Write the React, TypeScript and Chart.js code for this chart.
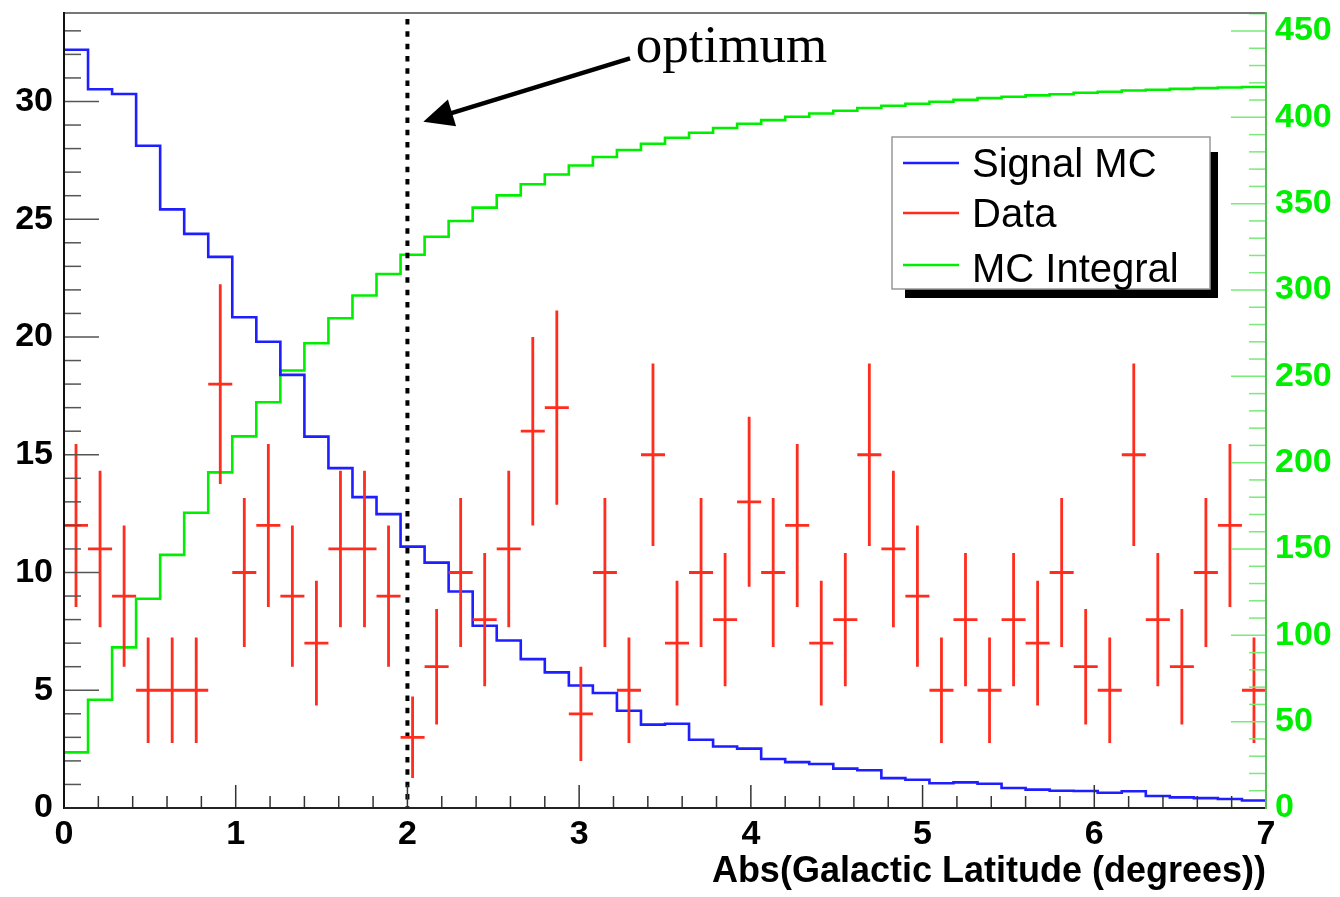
import React, { useEffect, useRef } from 'react';
import { Chart, registerables } from 'chart.js';

Chart.register(...registerables);

const W = 1340;
const H = 897;

// ---- data ----
const BIN_WIDTH = 0.14;
const binLowEdges = [
  0.0, 0.14, 0.28, 0.42, 0.56, 0.7, 0.84, 0.98, 1.12, 1.26,
  1.4, 1.54, 1.68, 1.82, 1.96, 2.1, 2.24, 2.38, 2.52, 2.66,
  2.8, 2.94, 3.08, 3.22, 3.36, 3.5, 3.64, 3.78, 3.92, 4.06,
  4.2, 4.34, 4.48, 4.62, 4.76, 4.9, 5.04, 5.18, 5.32, 5.46,
  5.6, 5.74, 5.88, 6.02, 6.16, 6.3, 6.44, 6.58, 6.72, 6.86,
];

const signalMC = [
  32.2, 30.52, 30.32, 28.12, 25.42, 24.38, 23.4, 20.84, 19.8, 18.39,
  15.77, 14.43, 13.2, 12.48, 11.1, 10.42, 9.19, 7.74, 7.11, 6.32,
  5.76, 5.2, 4.88, 4.13, 3.54, 3.58, 2.9, 2.61, 2.52, 2.08,
  1.95, 1.87, 1.67, 1.6, 1.27, 1.2, 1.05, 1.09, 1.03, 0.85,
  0.78, 0.73, 0.72, 0.65, 0.71, 0.51, 0.45, 0.42, 0.38, 0.32,
];

const mcIntegral = [
  32.2, 62.7, 93.0, 121.2, 146.6, 171.0, 194.4, 215.2, 235.0, 253.4,
  269.2, 283.6, 296.8, 309.3, 320.4, 330.8, 340.0, 347.7, 354.8, 361.2,
  366.9, 372.1, 377.0, 381.1, 384.7, 388.2, 391.1, 393.8, 396.3, 398.4,
  400.3, 402.2, 403.8, 405.4, 406.7, 407.9, 409.0, 410.1, 411.1, 411.9,
  412.7, 413.4, 414.2, 414.8, 415.5, 416.0, 416.5, 416.9, 417.3, 417.6,
];

const dataCounts = [
  12, 11, 9, 5, 5, 5, 18, 10, 12, 9,
  7, 11, 11, 9, 3, 6, 10, 8, 11, 16,
  17, 4, 10, 5, 15, 7, 10, 8, 13, 10,
  12, 7, 8, 15, 11, 9, 5, 8, 5, 8,
  7, 10, 6, 5, 15, 8, 6, 10, 12, 5,
];

const dataErrors = [
  3.46, 3.32, 3.0, 2.24, 2.24, 2.24, 4.24, 3.16, 3.46, 3.0,
  2.65, 3.32, 3.32, 3.0, 1.73, 2.45, 3.16, 2.83, 3.32, 4.0,
  4.12, 2.0, 3.16, 2.24, 3.87, 2.65, 3.16, 2.83, 3.61, 3.16,
  3.46, 2.65, 2.83, 3.87, 3.32, 3.0, 2.24, 2.83, 2.24, 2.83,
  2.65, 3.16, 2.45, 2.24, 3.87, 2.83, 2.45, 3.16, 3.46, 2.24,
];

const xTickLabels = ['0', '1', '2', '3', '4', '5', '6', '7'];
const yLeftTickLabels = ['0', '5', '10', '15', '20', '25', '30'];
const yRightTickLabels = ['0', '50', '100', '150', '200', '250', '300', '350', '400', '450'];

const X_MIN = 0;
const X_MAX = 7;
const Y_LEFT_MAX = 33.8;
const Y_RIGHT_MAX = 461;
const OPTIMUM_X = 2;
const OPTIMUM_TOP = 33.5;
const ARROW_TAIL = { x: 3.296, y: 31.83 };
const ARROW_TIP = { x: 2.0925, y: 29.14 };
const LABEL_POS = { x: 3.33, y: 31.69 };
const LABEL_TEXT = 'optimum';
const X_TITLE = 'Abs(Galactic Latitude (degrees))';

// ---- styles ----
const SANS = '"Liberation Sans", Arial, Helvetica, sans-serif';
const SERIF = '"Liberation Serif", "Times New Roman", serif';
const BLUE = 'rgb(30,30,255)';
const RED = 'rgb(255,45,30)';
const GREEN = 'rgb(0,238,0)';

const xTicks: number[] = [];
for (let i = 0; i <= 35; i++) xTicks.push(Math.round(i * 20) / 100);
const yLeftTicks: number[] = [];
for (let i = 0; i <= 33; i++) yLeftTicks.push(i);
const yRightTicks: number[] = [];
for (let i = 0; i <= 46; i++) yRightTicks.push(i * 10);

const isMult = (v: number, m: number) => Math.abs(v / m - Math.round(v / m)) < 1e-6;

const stepData = (vals: number[]) => {
  const pts = binLowEdges.map((e, i) => ({ x: e, y: vals[i] }));
  pts.push({ x: X_MAX, y: vals[vals.length - 1] });
  return pts;
};

const errorSegments = () => {
  const pts: any[] = [];
  dataCounts.forEach((v, i) => {
    const lo = binLowEdges[i];
    const c = lo + BIN_WIDTH / 2;
    const e = dataErrors[i];
    pts.push({ x: c, y: v - e }, { x: c, y: v + e }, { x: c, y: null });
    pts.push({ x: lo, y: v }, { x: lo + BIN_WIDTH, y: v }, { x: c, y: null });
  });
  return pts;
};

const LEGEND_ITEMS = ['Signal MC', 'Data', 'MC Integral'];

const decorPlugin = {
  id: 'rootDecor',
  afterDatasetsDraw(chart: any) {
    const { ctx, chartArea: a, scales } = chart;
    const xs = scales.x;
    const yl = scales.y;
    const yr = scales.y1;
    ctx.save();
    ctx.lineCap = 'butt';
    const seg = (x1: number, y1: number, x2: number, y2: number) => {
      ctx.beginPath();
      ctx.moveTo(x1, y1);
      ctx.lineTo(x2, y2);
      ctx.stroke();
    };
    // left ticks
    ctx.strokeStyle = '#555';
    ctx.lineWidth = 1.5;
    for (const t of yl.ticks) {
      const py = yl.getPixelForValue(t.value);
      seg(a.left, py, a.left + (isMult(t.value, 5) ? 35 : 17), py);
    }
    // bottom ticks
    ctx.strokeStyle = '#333';
    for (const t of xs.ticks) {
      const px = xs.getPixelForValue(t.value);
      seg(px, a.bottom, px, a.bottom - (isMult(t.value, 1) ? 23 : 12));
    }
    // right ticks
    ctx.strokeStyle = 'rgb(120,235,120)';
    for (const t of yr.ticks) {
      const py = yr.getPixelForValue(t.value);
      seg(a.right, py, a.right - (isMult(t.value, 50) ? 35 : 17), py);
    }
    // frame
    ctx.lineWidth = 2;
    ctx.strokeStyle = '#777';
    seg(a.left, a.top + 1, a.right, a.top + 1);
    ctx.strokeStyle = '#111';
    seg(a.left, a.top, a.left, a.bottom + 1);
    ctx.strokeStyle = '#222';
    seg(a.left, a.bottom, a.right, a.bottom);
    ctx.strokeStyle = 'rgb(80,190,80)';
    seg(a.right, a.top, a.right, a.bottom + 1);
    ctx.restore();
  },
  afterDraw(chart: any) {
    const { ctx, scales } = chart;
    const xs = scales.x;
    const yl = scales.y;
    ctx.save();
    // annotation arrow
    const tx = xs.getPixelForValue(ARROW_TAIL.x);
    const ty = yl.getPixelForValue(ARROW_TAIL.y);
    const hx = xs.getPixelForValue(ARROW_TIP.x);
    const hy = yl.getPixelForValue(ARROW_TIP.y);
    const dx = hx - tx;
    const dy = hy - ty;
    const len = Math.hypot(dx, dy);
    const ux = dx / len;
    const uy = dy / len;
    const headLen = 30;
    const headHalf = 14;
    const bx = hx - ux * headLen;
    const by = hy - uy * headLen;
    ctx.strokeStyle = '#000';
    ctx.fillStyle = '#000';
    ctx.lineWidth = 4.5;
    ctx.beginPath();
    ctx.moveTo(tx, ty);
    ctx.lineTo(bx + ux * 4, by + uy * 4);
    ctx.stroke();
    ctx.beginPath();
    ctx.moveTo(hx, hy);
    ctx.lineTo(bx - uy * headHalf, by + ux * headHalf);
    ctx.lineTo(bx + uy * headHalf, by - ux * headHalf);
    ctx.closePath();
    ctx.fill();
    // label
    ctx.font = `53px ${SERIF}`;
    ctx.textAlign = 'left';
    ctx.textBaseline = 'alphabetic';
    ctx.fillText(LABEL_TEXT, xs.getPixelForValue(LABEL_POS.x), yl.getPixelForValue(LABEL_POS.y));

    // legend
    const L = { x1: 892, y1: 137, x2: 1210, y2: 289 };
    ctx.fillStyle = '#000';
    ctx.fillRect(L.x2, L.y1 + 15, 8, L.y2 - L.y1 - 6);
    ctx.fillRect(L.x1 + 13, L.y2, L.x2 - L.x1 - 5, 9);
    ctx.fillStyle = '#fff';
    ctx.fillRect(L.x1, L.y1, L.x2 - L.x1, L.y2 - L.y1);
    ctx.strokeStyle = '#999';
    ctx.lineWidth = 1.5;
    ctx.strokeRect(L.x1, L.y1, L.x2 - L.x1, L.y2 - L.y1);
    const rows = [163, 213, 265];
    const bases = [177, 227, 282];
    ctx.font = `40px ${SANS}`;
    ctx.textBaseline = 'alphabetic';
    LEGEND_ITEMS.forEach((name, i) => {
      const ds = chart.data.datasets.find((d: any) => d.label === name);
      ctx.strokeStyle = ds ? ds.borderColor : '#000';
      ctx.lineWidth = 2.5;
      ctx.beginPath();
      ctx.moveTo(903, rows[i]);
      ctx.lineTo(959, rows[i]);
      ctx.stroke();
      ctx.fillStyle = '#000';
      ctx.fillText(name, 972, bases[i]);
    });
    ctx.restore();
  },
};

export default function App() {
  const ref = useRef<HTMLCanvasElement | null>(null);
  useEffect(() => {
    const canvas = ref.current;
    if (!canvas) return;
    const chart = new Chart(canvas, {
      type: 'line',
      data: {
        datasets: [
          {
            label: 'Data',
            data: errorSegments(),
            borderColor: RED,
            borderWidth: 2.8,
            pointRadius: 0,
            spanGaps: false,
            yAxisID: 'y',
          },
          {
            label: 'optimum line',
            data: [
              { x: OPTIMUM_X, y: OPTIMUM_TOP },
              { x: OPTIMUM_X, y: 0 },
            ],
            borderColor: '#000',
            borderWidth: 4,
            borderDash: [5.5, 6.8],
            pointRadius: 0,
            yAxisID: 'y',
          },
          {
            label: 'Signal MC',
            data: stepData(signalMC),
            borderColor: BLUE,
            borderWidth: 2.6,
            stepped: 'before',
            pointRadius: 0,
            yAxisID: 'y',
          },
          {
            label: 'MC Integral',
            data: stepData(mcIntegral),
            borderColor: GREEN,
            borderWidth: 2.6,
            stepped: 'before',
            pointRadius: 0,
            yAxisID: 'y1',
          },
        ] as any,
      },
      options: {
        animation: false,
        responsive: false,
        maintainAspectRatio: false,
        devicePixelRatio: 1,
        events: [],
        layout: { padding: { top: 12, left: 0, right: 0, bottom: 0 } },
        plugins: {
          legend: { display: false },
          tooltip: { enabled: false },
        },
        scales: {
          x: {
            type: 'linear',
            position: 'bottom',
            min: X_MIN,
            max: X_MAX,
            afterBuildTicks: (s: any) => {
              s.ticks = xTicks.map((v) => ({ value: v }));
            },
            afterFit: (s: any) => {
              s.height = 89;
              s.paddingLeft = 0;
              s.paddingRight = 0;
            },
            grid: { display: false, drawTicks: false },
            border: { display: false },
            ticks: {
              autoSkip: false,
              maxRotation: 0,
              minRotation: 0,
              padding: 6,
              color: '#000',
              font: { family: SANS, size: 34, weight: 'bold' },
              callback: (v: any) => {
                const n = Number(v);
                return isMult(n, 1) ? xTickLabels[Math.round(n)] : '';
              },
            },
            title: {
              display: true,
              text: X_TITLE,
              align: 'end',
              color: '#000',
              font: { family: SANS, size: 36, weight: 'bold' },
              padding: { top: 0, bottom: 3 },
            },
          },
          y: {
            type: 'linear',
            position: 'left',
            min: 0,
            max: Y_LEFT_MAX,
            afterBuildTicks: (s: any) => {
              s.ticks = yLeftTicks.map((v) => ({ value: v }));
            },
            afterFit: (s: any) => {
              s.width = 64;
              s.paddingTop = 0;
              s.paddingBottom = 0;
            },
            grid: { display: false, drawTicks: false },
            border: { display: false },
            ticks: {
              autoSkip: false,
              padding: 11,
              color: '#000',
              font: { family: SANS, size: 34, weight: 'bold' },
              callback: (v: any) => {
                const n = Number(v);
                return isMult(n, 5) ? yLeftTickLabels[Math.round(n / 5)] : '';
              },
            },
          },
          y1: {
            type: 'linear',
            position: 'right',
            min: 0,
            max: Y_RIGHT_MAX,
            afterBuildTicks: (s: any) => {
              s.ticks = yRightTicks.map((v) => ({ value: v }));
            },
            afterFit: (s: any) => {
              s.width = 74;
              s.paddingTop = 0;
              s.paddingBottom = 0;
            },
            grid: { display: false, drawTicks: false },
            border: { display: false },
            ticks: {
              autoSkip: false,
              padding: 9,
              color: GREEN,
              font: { family: SANS, size: 34, weight: 'bold' },
              callback: (v: any) => {
                const n = Number(v);
                return isMult(n, 50) ? yRightTickLabels[Math.round(n / 50)] : '';
              },
            },
          },
        },
      } as any,
      plugins: [decorPlugin],
    });
    return () => chart.destroy();
  }, []);

  return (
    <div style={{ position: 'absolute', left: 0, top: 0, width: W, height: H, background: '#fff' }}>
      <canvas ref={ref} width={W} height={H} style={{ display: 'block', width: W, height: H }} />
    </div>
  );
}
